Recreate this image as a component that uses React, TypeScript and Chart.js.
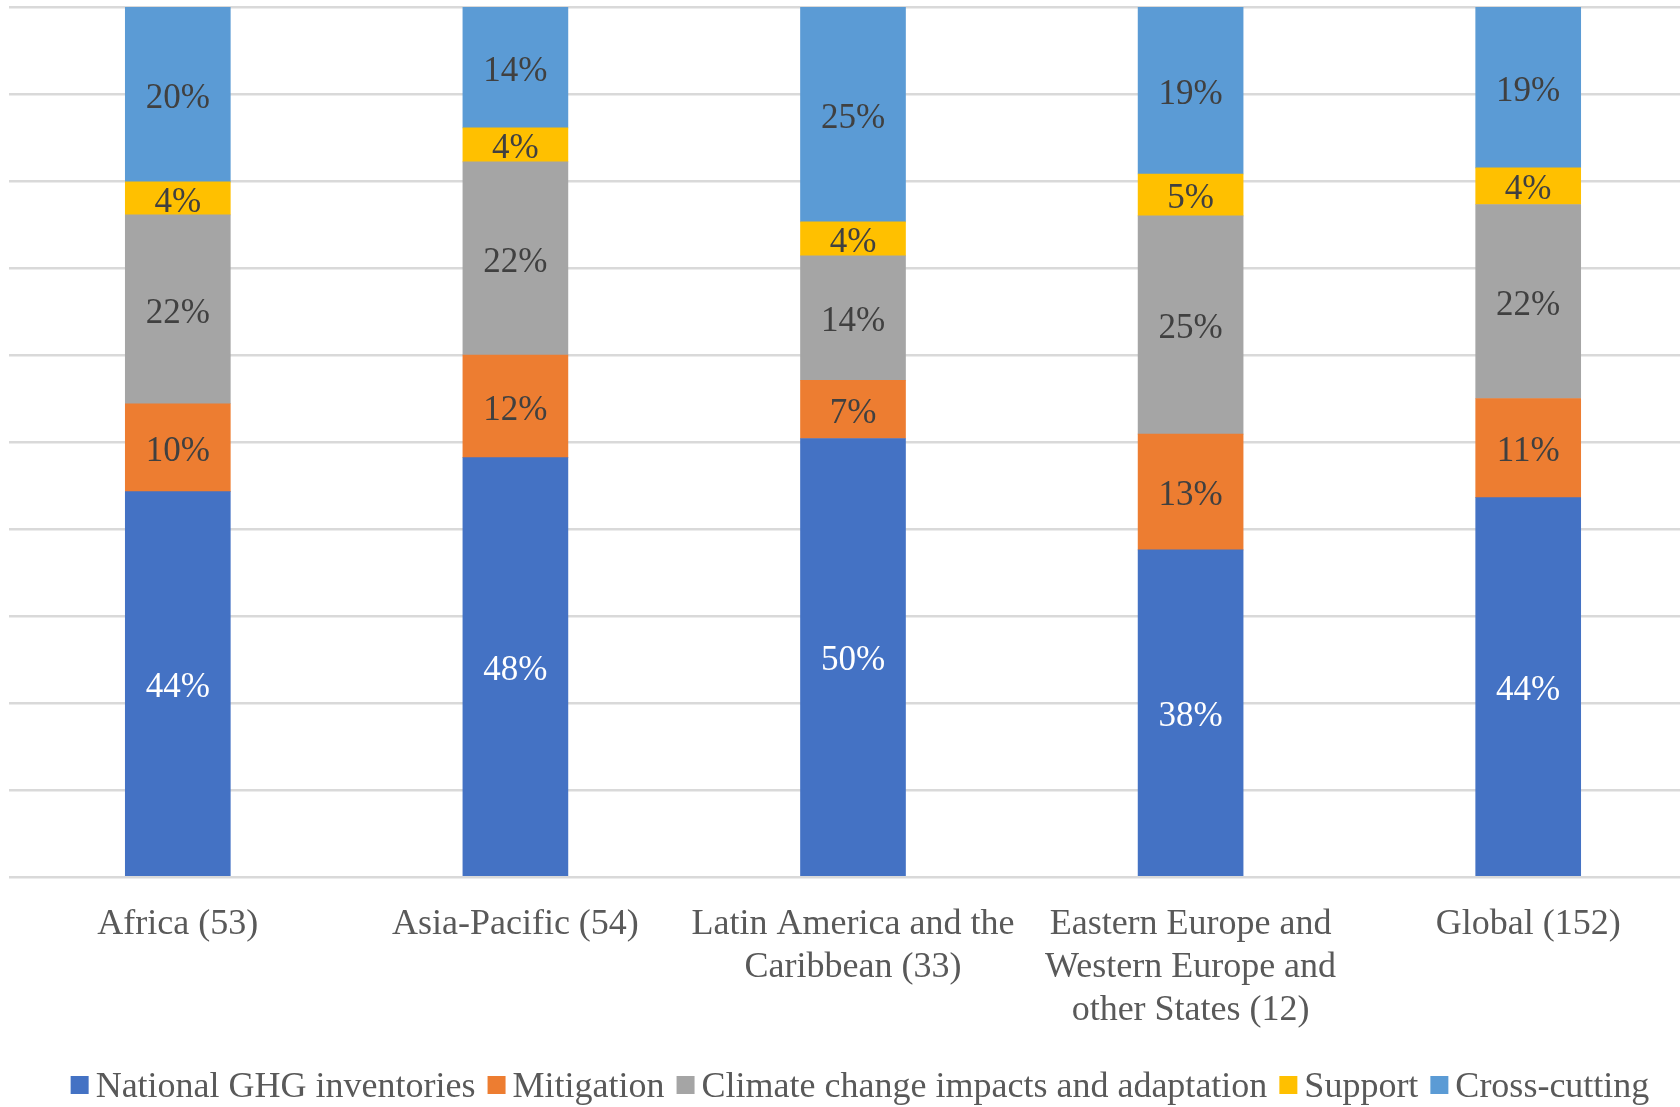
import React, { useEffect, useRef } from "react";
import { Chart, registerables } from "chart.js";

Chart.register(...registerables);

const categories: string[][] = [
  ["Africa (53)"],
  ["Asia-Pacific (54)"],
  ["Latin America and the", "Caribbean (33)"],
  ["Eastern Europe and", "Western Europe and", "other States (12)"],
  ["Global (152)"],
];

const seriesNames = [
  "National GHG inventories",
  "Mitigation",
  "Climate change impacts and adaptation",
  "Support",
  "Cross-cutting",
];

const nationalGHG = [44.3, 48.2, 50.4, 37.6, 43.6];
const mitigation = [10.1, 11.8, 6.7, 13.3, 11.4];
const adaptation = [21.7, 22.2, 14.3, 25.1, 22.3];
const support = [3.8, 3.9, 3.9, 4.8, 4.2];
const crossCutting = [20.1, 13.9, 24.7, 19.2, 18.5];

const seriesColors = ["#4472C4", "#ED7D31", "#A5A5A5", "#FFC000", "#5B9BD5"];
const labelColors = ["#FFFFFF", "#404040", "#404040", "#404040", "#404040"];

const FONT_FAMILY = "'Liberation Serif'";
const LABEL_SIZE = 35;
const AXIS_SIZE = 36;

const dataLabelPlugin = {
  id: "dataLabels",
  afterDatasetsDraw(chart: any) {
    const ctx = chart.ctx;
    ctx.save();
    ctx.font = `${LABEL_SIZE}px ${FONT_FAMILY}`;
    ctx.textAlign = "center";
    ctx.textBaseline = "middle";
    chart.data.datasets.forEach((ds: any, di: number) => {
      const meta = chart.getDatasetMeta(di);
      meta.data.forEach((el: any, i: number) => {
        const v = ds.data[i];
        const cy = (el.y + el.base) / 2;
        ctx.fillStyle = labelColors[di];
        ctx.fillText(`${Math.round(v)}%`, el.x, cy + 4);
      });
    });
    ctx.restore();
  },
};

const legendPlugin = {
  id: "customLegend",
  afterDraw(chart: any) {
    const ctx = chart.ctx;
    ctx.save();
    ctx.font = `${AXIS_SIZE}px ${FONT_FAMILY}`;
    ctx.textBaseline = "middle";
    ctx.textAlign = "left";
    const box = 18;
    const gap = 7;
    const itemGap = 12;
    const widths = seriesNames.map((n) => ctx.measureText(n).width);
    const total =
      widths.reduce((a, b) => a + b, 0) +
      seriesNames.length * (box + gap) +
      (seriesNames.length - 1) * itemGap;
    const centerX = 860;
    const cy = 1085;
    let x = centerX - total / 2;
    seriesNames.forEach((n, i) => {
      ctx.fillStyle = seriesColors[i];
      ctx.fillRect(x, cy - box / 2, box, box);
      x += box + gap;
      ctx.fillStyle = "#595959";
      ctx.fillText(n, x, cy + 3);
      x += widths[i] + itemGap;
    });
    ctx.restore();
  },
};

export default function App() {
  const ref = useRef<HTMLCanvasElement | null>(null);

  useEffect(() => {
    let chart: Chart | null = null;
    let cancelled = false;
    const build = () => {
      if (cancelled || !ref.current) return;
      const seriesData = [nationalGHG, mitigation, adaptation, support, crossCutting];
      chart = new Chart(ref.current, {
        type: "bar",
        data: {
          labels: categories,
          datasets: seriesNames.map((name, i) => ({
            label: name,
            data: seriesData[i],
            backgroundColor: seriesColors[i],
            borderWidth: 0,
            barThickness: 105,
          })),
        },
        options: {
          responsive: false,
          animation: false,
          devicePixelRatio: 1,
          layout: { padding: { left: 9, right: 3, top: 7, bottom: 0 } },
          plugins: {
            legend: { display: false },
            tooltip: { enabled: false },
          },
          scales: {
            x: {
              stacked: true,
              grid: { display: false, drawTicks: false },
              border: { display: false },
              ticks: {
                color: "#595959",
                font: { family: FONT_FAMILY, size: AXIS_SIZE, lineHeight: 1.2 },
                padding: 26,
                maxRotation: 0,
                autoSkip: false,
              },
              afterFit(scale: any) {
                scale.height = 230;
              },
            },
            y: {
              stacked: true,
              min: 0,
              max: 100,
              ticks: { display: false, stepSize: 10 },
              grid: { color: "#D9D9D9", lineWidth: 2.5, drawTicks: false },
              border: { display: false },
              afterFit(scale: any) {
                scale.width = 0;
              },
            },
          },
        },
        plugins: [dataLabelPlugin, legendPlugin],
      });
    };
    const fonts: any = (document as any).fonts;
    if (fonts && fonts.load) {
      fonts.load(`${AXIS_SIZE}px ${FONT_FAMILY}`).then(build, build);
    } else {
      build();
    }
    return () => {
      cancelled = true;
      if (chart) chart.destroy();
    };
  }, []);

  return (
    <div
      style={{
        position: "fixed",
        left: 0,
        top: 0,
        width: 1680,
        height: 1107,
        overflow: "hidden",
        background: "#FFFFFF",
      }}
    >
      <canvas ref={ref} width={1700} height={1107} style={{ display: "block", width: 1700, height: 1107 }} />
    </div>
  );
}
